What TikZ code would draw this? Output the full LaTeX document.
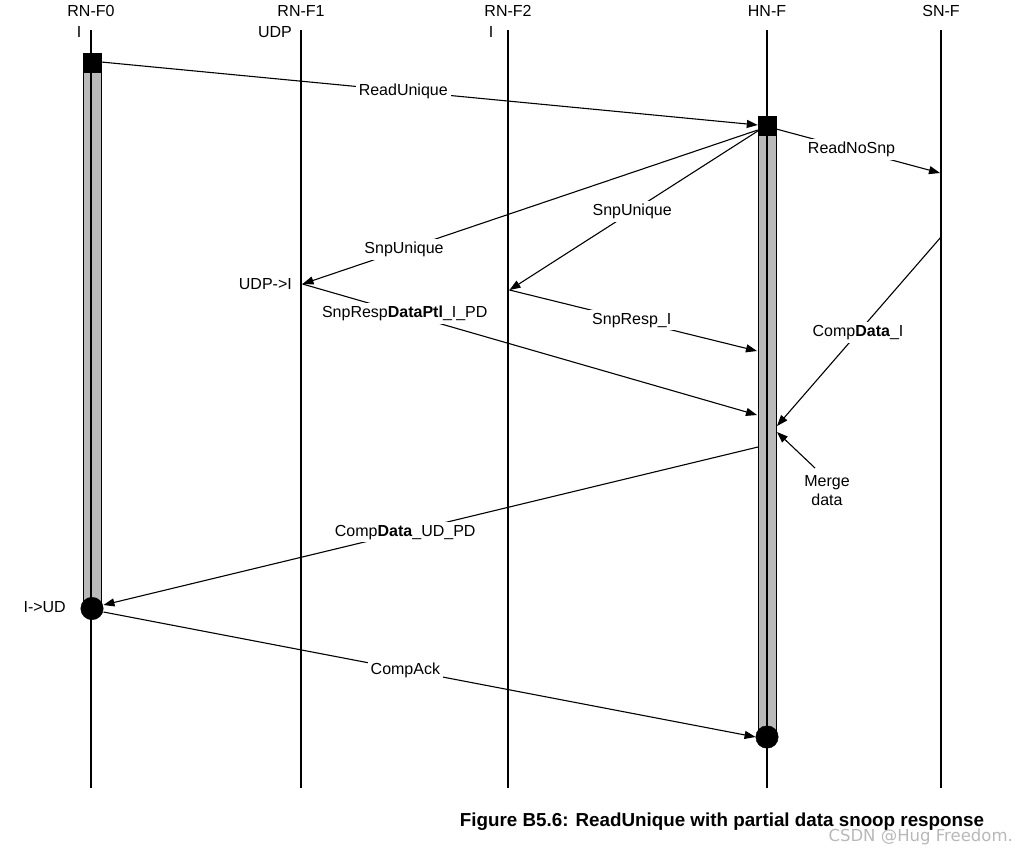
\documentclass[tikz,border=0pt]{standalone}
\usepackage{fontspec}
\setmainfont{Liberation Sans}
\newfontfamily\wmfont{DejaVu Sans}
\usetikzlibrary{arrows.meta}
\begin{document}
\begin{tikzpicture}[x=1pt,y=-1pt,
  life/.style={line width=2.4pt},
  actbar/.style={fill=black!27,draw=black,line width=0.9pt},
  msg/.style={line width=1.1pt,-{Triangle[length=11pt,width=8pt]}},
  lbl/.style={fill=white,inner sep=3pt,font=\fontsize{16}{19}\selectfont},
  txt/.style={inner sep=0pt,font=\fontsize{16}{19}\selectfont},
  sq/.style={fill=black,draw=black,minimum size=18pt,inner sep=0pt,rectangle},
  dot/.style={fill=black,draw=black,minimum size=22.5pt,inner sep=0pt,circle}
]
\useasboundingbox (0,0) rectangle (1017,854);

% activation bars
\draw[actbar] (83,72) rectangle (101,608);
\draw[actbar] (758,135) rectangle (776,737);

% lifelines
\foreach \x in {91,301,508,767,941}{
  \draw[life] (\x,30) -- (\x,788);
}

% headers
\node[txt] (h0) at (91,10.5) {RN-F0};
\node[txt] (h1) at (301,10.5) {RN-F1};
\node[txt] (h2) at (508,10.5) {RN-F2};
\node[txt] (h3) at (767,10.5) {HN-F};
\node[txt] (h4) at (941,10.5) {SN-F};
\node[txt] (s0) at (79,32) {I};
\node[txt] (s1) at (275,32) {UDP};
\node[txt] (s2) at (491,32) {I};

% squares and circles
\node[sq] (sqA) at (92,62.5) {};
\node[sq] (sqH) at (767,125.5) {};
\node[dot] (cA) at (92,608.5) {};
\node[dot] (cH) at (767,737) {};

% endpoints
\coordinate (b1) at (302.5,284);
\coordinate (c1) at (509.5,290);
\coordinate (e1) at (940,173);
\coordinate (e2) at (941,237);
\coordinate (d1) at (757,351);
\coordinate (d2) at (757,415);
\coordinate (d3) at (777,426);
\coordinate (d4) at (777,432);
\coordinate (d5) at (758,447);
\coordinate (m1) at (815,468);

% messages
\draw[msg] (sqA.east |- 0,62) -- node[lbl,pos=0.46] {ReadUnique} (sqH.west |- 0,125);
\draw[msg] (sqH.east |- 0,129) -- node[lbl,pos=0.46] {ReadNoSnp} (e1);
\draw[msg] (sqH.west |- 0,130) -- node[lbl,pos=0.777] {SnpUnique} (b1);
\draw[msg] (sqH.west |- 0,131) -- node[lbl,pos=0.506] {SnpUnique} (c1);
\draw[msg] (b1) -- node[lbl,pos=0.225] {SnpResp\textbf{DataPtl}\_I\_PD} (d2);
\draw[msg] (c1) -- node[lbl,pos=0.494] {SnpResp\_I} (d1);
\draw[msg] (e2) -- node[lbl,pos=0.506] {Comp\textbf{Data}\_I} (d3);
\draw[msg] (m1) -- (d4);
\draw[msg] (d5) -- node[lbl,pos=0.539] {Comp\textbf{Data}\_UD\_PD} (cA.east |- 0,605);
\draw[msg] (cA.east |- 0,612) -- node[lbl,pos=0.463] {CompAck} (cH.west |- 0,737);

% side labels
\node[txt,align=center] (md) at (827,491) {Merge\\data};
\node[txt,anchor=east] (u1) at (292,284) {UDP->I};
\node[txt,anchor=east] (u2) at (66,607) {I->UD};

% caption
\node[inner sep=0pt,font=\fontsize{18.8}{22}\selectfont\bfseries] (cap) at (722,822) {Figure B5.6: ReadUnique with partial data snoop response};
\node[inner sep=0pt,text=black!28,font=\wmfont\fontsize{16.5}{19}\selectfont,anchor=east] (wm) at (1013,837) {CSDN @Hug Freedom.};
\end{tikzpicture}
\end{document}
